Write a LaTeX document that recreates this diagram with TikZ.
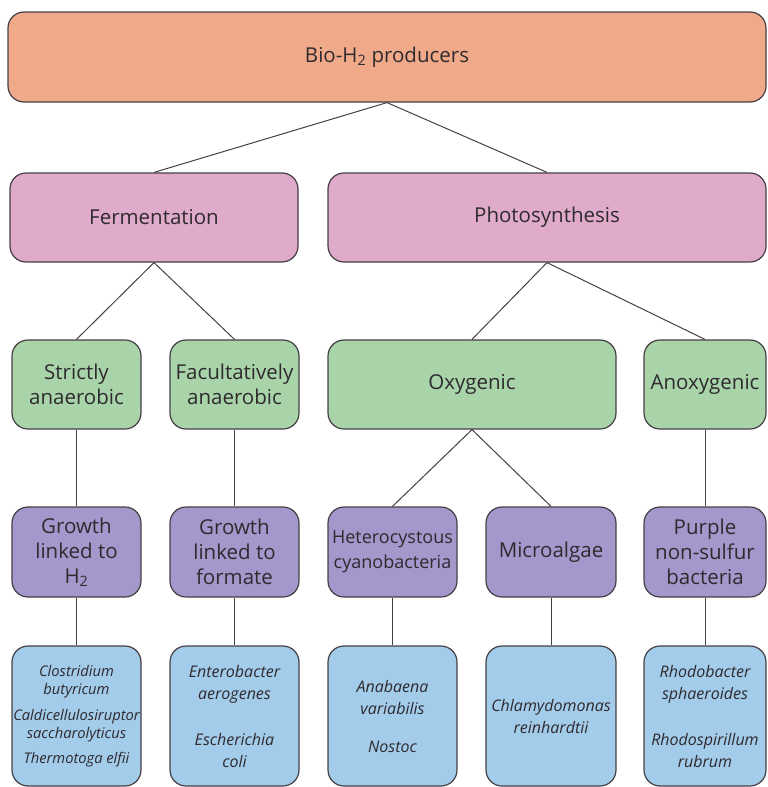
\documentclass[tikz,border=0pt]{standalone}
\usepackage{fontspec}
\setmainfont{Open Sans}
\begin{document}
\begin{tikzpicture}[x = 1pt, y = -1pt,
  box/.style = {draw = edge, line width = 1.2pt, rounded corners = 16pt, align = center, text = ink, inner sep = 0pt, font = \fontsize{20.5}{25}\selectfont},
  species/.style = {box, fill = colSpecies, minimum width = 129pt, minimum height = 140pt, font = \fontsize{16}{22}\selectfont\itshape},
  link/.style = {draw = edge, line width = 1pt}]
\definecolor{edge}{HTML}{454045}
\definecolor{ink}{HTML}{2E2A2E}
\definecolor{colTop}{HTML}{F0AA8A}
\definecolor{colMode}{HTML}{E0AACB}
\definecolor{colType}{HTML}{A9D4AA}
\definecolor{colGroup}{HTML}{A497CB}
\definecolor{colSpecies}{HTML}{A3CBEA}
\useasboundingbox (0, 0) rectangle (768, 787);
\node[box, fill = colTop, minimum width = 758pt, minimum height = 90pt] (producers) at (387, 57) {Bio-H\textsubscript{2} producers};
\node[box, fill = colMode, minimum width = 288pt, minimum height = 89pt] (fermentation) at (154, 217.5) {Fermentation};
\node[box, fill = colMode, minimum width = 438pt, minimum height = 89pt] (photosynthesis) at (547, 217.5) {Photosynthesis};
\node[box, fill = colType, minimum width = 129pt, minimum height = 89pt] (strictly) at (76.5, 384.5) {Strictly\\anaerobic};
\node[box, fill = colType, minimum width = 129pt, minimum height = 89pt] (facultatively) at (234.5, 384.5) {Facultatively\\anaerobic};
\node[box, fill = colType, minimum width = 288pt, minimum height = 89pt] (oxygenic) at (472, 384.5) {Oxygenic};
\node[box, fill = colType, minimum width = 122pt, minimum height = 89pt] (anoxygenic) at (705, 384.5) {Anoxygenic};
\node[box, fill = colGroup, minimum width = 129pt, minimum height = 90pt] (growthHtwo) at (76.5, 552) {Growth\\linked to\\H\textsubscript{2}};
\node[box, fill = colGroup, minimum width = 129pt, minimum height = 90pt] (growthFormate) at (234.5, 552) {Growth\\linked to\\formate};
\node[box, fill = colGroup, minimum width = 129pt, minimum height = 90pt, font = \fontsize{18}{25}\selectfont] (heterocystous) at (392.5, 552) {Heterocystous\\cyanobacteria};
\node[box, fill = colGroup, minimum width = 130pt, minimum height = 90pt] (microalgae) at (551, 552) {Microalgae};
\node[box, fill = colGroup, minimum width = 122pt, minimum height = 90pt] (purple) at (705, 552) {Purple\\non-sulfur\\bacteria};
\node[species, font = \fontsize{14.7}{18}\selectfont\itshape] (clostridium) at (76.5, 716) {Clostridium\\butyricum\\[8pt]Caldicellulosiruptor\\saccharolyticus\\[7pt]Thermotoga elfii};
\node[species] (enterobacter) at (234.5, 716) {Enterobacter\\aerogenes\\[24pt]Escherichia\\coli};
\node[species] (anabaena) at (392.5, 716) {Anabaena\\variabilis\\[16pt]Nostoc};
\node[species, minimum width = 130pt] (chlamydomonas) at (551, 716) {Chlamydomonas\\reinhardtii};
\node[species, minimum width = 122pt] (rhodobacter) at (705, 716) {Rhodobacter\\sphaeroides\\[24pt]Rhodospirillum\\rubrum};
\draw[link] (producers.south) -- (fermentation.north);
\draw[link] (producers.south) -- (photosynthesis.north);
\draw[link] (fermentation.south) -- (strictly.north);
\draw[link] (fermentation.south) -- (facultatively.north);
\draw[link] (photosynthesis.south) -- (oxygenic.north);
\draw[link] (photosynthesis.south) -- (anoxygenic.north);
\draw[link] (oxygenic.south) -- (heterocystous.north);
\draw[link] (oxygenic.south) -- (microalgae.north);
\draw[link] (strictly.south) -- (growthHtwo.north);
\draw[link] (facultatively.south) -- (growthFormate.north);
\draw[link] (anoxygenic.south) -- (purple.north);
\draw[link] (growthHtwo.south) -- (clostridium.north);
\draw[link] (growthFormate.south) -- (enterobacter.north);
\draw[link] (heterocystous.south) -- (anabaena.north);
\draw[link] (microalgae.south) -- (chlamydomonas.north);
\draw[link] (purple.south) -- (rhodobacter.north);
\end{tikzpicture}
\end{document}
